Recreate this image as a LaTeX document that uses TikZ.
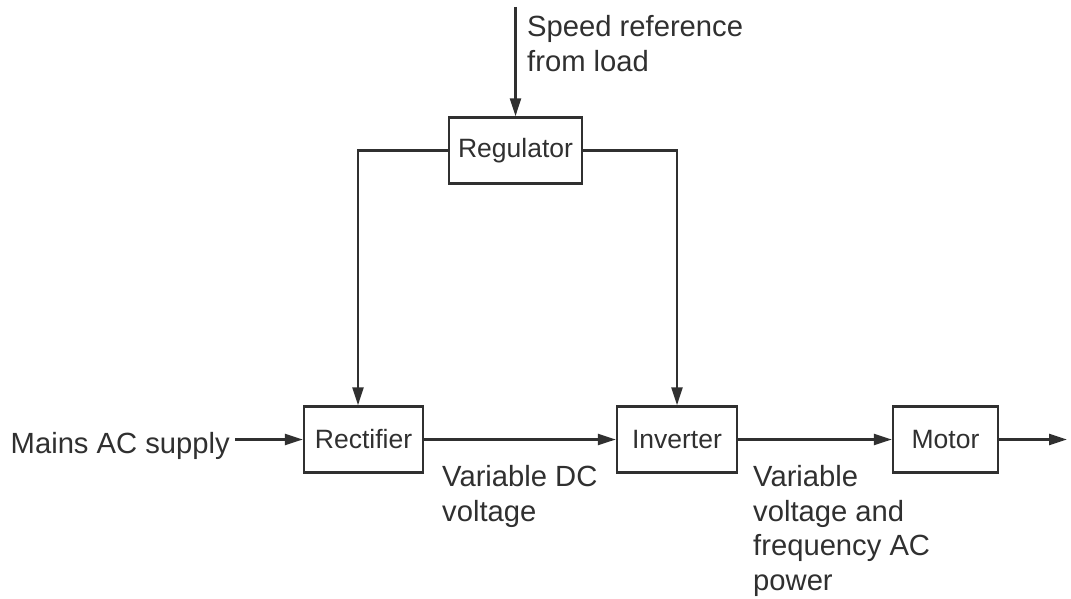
\documentclass[tikz,border=0pt]{standalone}
\usepackage{fontspec}
\setmainfont{Liberation Sans}
\usepackage{xcolor}
\usepackage{tikz}
\usetikzlibrary{arrows.meta}
\definecolor{ink}{HTML}{303030}

\begin{document}
\begin{tikzpicture}[
    x=1pt, y=-1pt,
    block/.style={draw=ink, line width=2.4pt, minimum width=#1, minimum height=66pt, inner sep=0pt, text=ink, font=\fontsize{26.5}{31}\selectfont},
    lbl/.style={align=left, inner sep=0pt, text=ink, font=\fontsize{29.2}{34.5}\selectfont},
    arr/.style={-{Triangle[length=18pt,width=11pt]}, draw=ink, line width=2.4pt}
]
\useasboundingbox[fill=white] (0,0) rectangle (1071,599);

\node[block=133pt] (reg) at (515.5,150.5) {Regulator};
\node[block=119pt] (rect) at (363.5,439.5) {Rectifier};
\node[block=120pt] (inv) at (677,439.5) {Inverter};
\node[block=105pt] (motor) at (945.5,439.5) {Motor};

\node[lbl, anchor=north west] (speed) at (527,15.5) {Speed reference\\from load};
\node[lbl, anchor=base east, inner xsep=5pt] (mains) at (235,453) {Mains AC supply};
\node[lbl, anchor=north west] (dcv) at (442,465.5) {Variable DC\\voltage};
\node[lbl, anchor=north west] (acp) at (753,465.5) {Variable\\voltage and\\frequency AC\\power};

\coordinate (ref) at (515.5,7);
\coordinate (out) at (1067,439.5);

\draw[arr] (ref) -- (reg);
\draw[arr] (reg.west) -| ([xshift=-5.5pt]rect.north);
\draw[arr] (reg.east) -| (inv.north);
\draw[arr] (rect.west -| mains.east) -- (rect.west);
\draw[arr] (rect) -- (inv);
\draw[arr] (inv) -- (motor);
\draw[arr] (motor) -- (out);
\end{tikzpicture}
\end{document}
